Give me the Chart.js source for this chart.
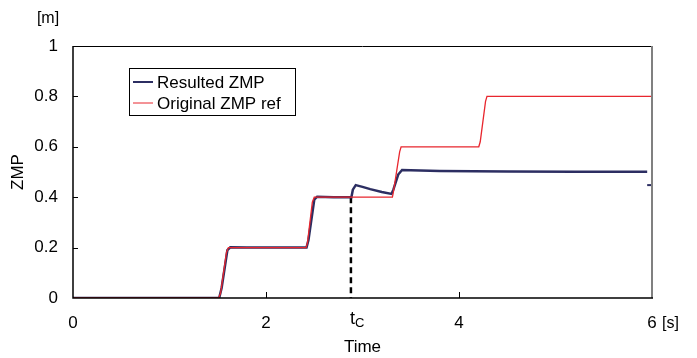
<!DOCTYPE html>
<html>
<head>
<meta charset="utf-8">
<script src="https://cdn.jsdelivr.net/npm/chart.js@4/dist/chart.umd.min.js"></script>
<style>
  html, body { margin: 0; padding: 0; background: #fff; }
</style>
</head>
<body>
<canvas id="zmpChart" width="697" height="358"></canvas>
<script>
// original ZMP reference (step pattern)
const refTime = [0, 1.51, 1.53, 1.59, 1.61, 2.415, 2.43, 2.48, 2.50, 3.31, 3.32, 3.385, 3.40, 4.205, 4.22, 4.275, 4.29, 6];
const refZmp  = [0, 0,    0.02, 0.18, 0.2,  0.2,   0.22, 0.38, 0.4,  0.4,  0.42, 0.58,  0.6,  0.6,   0.62, 0.78,  0.8,  0.8];

// resulted ZMP
const resTime = [0, 1.515, 1.54, 1.60, 1.63, 1.8, 2.42, 2.44, 2.50, 2.53, 2.7, 2.885, 2.90, 2.93, 3.0, 3.08, 3.2, 3.30, 3.32, 3.37, 3.41, 3.5, 3.8, 4.5, 5.2, 5.95];
const resZmp  = [0, 0,     0.04, 0.19, 0.201, 0.2, 0.2, 0.23, 0.39, 0.402, 0.4, 0.4,  0.43, 0.448, 0.441, 0.432, 0.421, 0.413, 0.43, 0.49, 0.508, 0.507, 0.504, 0.502, 0.501, 0.501];

// short mark at the right edge
const endMarkTime = [5.95, 6];
const endMarkZmp  = [0.448, 0.448];

// switching time t_C (dashed marker)
const tcTime = 2.88;
const tcLineZmp = [0.4, 0];

const seriesLabels = ['Resulted ZMP', 'Original ZMP ref'];
const xTickValues = [0, 2, 4, 6];
const yTickValues = [0, 0.2, 0.4, 0.6, 0.8, 1];

const toPts = (xs, ys) => xs.map((x, i) => ({ x: x, y: ys[i] }));

const FONT = '"Liberation Sans", Arial, sans-serif';

const decoPlugin = {
    id: 'deco',
    afterDatasetsDraw(chart) {
        const { ctx, chartArea: a, scales } = chart;
        const xs = scales.x, ys = scales.y;
        ctx.save();
        // frame
        ctx.lineWidth = 1;
        ctx.strokeStyle = '#000';
        ctx.beginPath();
        ctx.moveTo(a.left, a.top + 0.5);
        ctx.lineTo(a.right, a.top + 0.5);
        ctx.stroke();
        ctx.lineWidth = 2;
        ctx.strokeStyle = '#808080';
        ctx.beginPath();
        ctx.moveTo(a.right, a.top);
        ctx.lineTo(a.right, a.bottom);
        ctx.stroke();
        ctx.lineWidth = 1.5;
        ctx.strokeStyle = '#000';
        ctx.beginPath();
        ctx.moveTo(a.left, a.top);
        ctx.lineTo(a.left, a.bottom);
        ctx.lineTo(a.right + 1, a.bottom);
        ctx.stroke();

        // inward tick marks
        ctx.lineWidth = 1;
        yTickValues.slice(1, -1).forEach(v => {
            const py = Math.round(ys.getPixelForValue(v)) + 0.5;
            ctx.beginPath();
            ctx.moveTo(a.left, py);
            ctx.lineTo(a.left + 5, py);
            ctx.stroke();
        });
        xTickValues.slice(1, -1).forEach(v => {
            const px = Math.round(xs.getPixelForValue(v)) + 0.5;
            ctx.beginPath();
            ctx.moveTo(px, a.bottom);
            ctx.lineTo(px, a.bottom - 6);
            ctx.stroke();
        });

        // units
        ctx.fillStyle = '#000';
        ctx.font = '16px ' + FONT;
        ctx.textBaseline = 'middle';
        ctx.textAlign = 'center';
        ctx.fillText('[m]', 48, 19);
        ctx.textAlign = 'left';
        ctx.fillText('[s]', 662, 324);

        // t_C label
        const tcx = xs.getPixelForValue(tcTime);
        ctx.font = '18px ' + FONT;
        ctx.textAlign = 'right';
        ctx.fillText('t', tcx + 4, 319);
        ctx.font = '13px ' + FONT;
        ctx.textAlign = 'left';
        ctx.fillText('C', tcx + 4, 323);

        // legend box
        const lx = 129, ly = 68, lw = 166, lh = 47;
        ctx.fillStyle = '#fff';
        ctx.fillRect(lx, ly, lw, lh);
        ctx.strokeStyle = '#000';
        ctx.lineWidth = 1;
        ctx.strokeRect(lx + 0.5, ly + 0.5, lw, lh);
        ctx.font = '17px ' + FONT;
        ctx.textAlign = 'left';
        ctx.textBaseline = 'middle';
        [0, 1].forEach(i => {
            const ds = chart.data.datasets[i];
            const yy = ly + 14 + i * 21;
            ctx.strokeStyle = ds.borderColor;
            ctx.lineWidth = i === 0 ? 2 : 1;
            ctx.beginPath();
            ctx.moveTo(lx + 4, yy);
            ctx.lineTo(lx + 24, yy);
            ctx.stroke();
            ctx.fillStyle = '#000';
            ctx.fillText(ds.label, lx + 28, yy + 1);
        });
        ctx.restore();
    }
};

new Chart(document.getElementById('zmpChart'), {
    type: 'line',
    data: {
        datasets: [
            {
                label: seriesLabels[0],
                data: toPts(resTime, resZmp),
                borderColor: '#2c2e62',
                borderWidth: 2.5,
                order: 2
            },
            {
                label: seriesLabels[1],
                data: toPts(refTime, refZmp),
                borderColor: '#e8262e',
                borderWidth: 1.3,
                order: 1
            },
            {
                label: 'tc',
                data: toPts([tcTime, tcTime], tcLineZmp),
                borderColor: '#000',
                borderWidth: 2.5,
                borderDash: [6, 4],
                order: 3
            },
            {
                label: 'end',
                data: toPts(endMarkTime, endMarkZmp),
                borderColor: '#2c2e62',
                borderWidth: 2,
                order: 3
            }
        ]
    },
    options: {
        responsive: false,
        animation: false,
        devicePixelRatio: 1,
        elements: { point: { radius: 0 }, line: { tension: 0 } },
        layout: { padding: { left: 0, right: 45, top: 46, bottom: 0 } },
        plugins: { legend: { display: false }, tooltip: { enabled: false } },
        scales: {
            x: {
                type: 'linear',
                min: 0, max: 6,
                afterBuildTicks: s => { s.ticks = xTickValues.map(v => ({ value: v })); },
                afterFit: s => { s.height = 60; s.paddingLeft = 0; s.paddingRight = 0; },
                grid: { display: false, drawTicks: false },
                border: { display: false },
                ticks: { color: '#000', padding: 15, font: { family: FONT, size: 17 }, maxRotation: 0 },
                title: { display: true, text: 'Time', color: '#000', font: { family: FONT, size: 17 }, padding: { top: 0, bottom: 0 } }
            },
            y: {
                min: 0, max: 1,
                afterBuildTicks: s => { s.ticks = yTickValues.map(v => ({ value: v })); },
                afterFit: s => { s.width = 73; },
                grid: { display: false, drawTicks: false },
                border: { display: false },
                ticks: {
                    color: '#000', padding: 15, font: { family: FONT, size: 17 },
                    callback: v => String(Math.round(v * 10) / 10)
                },
                title: { display: true, text: 'ZMP', color: '#000', font: { family: FONT, size: 17 }, padding: { top: 8, bottom: 0 } }
            }
        }
    },
    plugins: [decoPlugin]
});
</script>
</body>
</html>
